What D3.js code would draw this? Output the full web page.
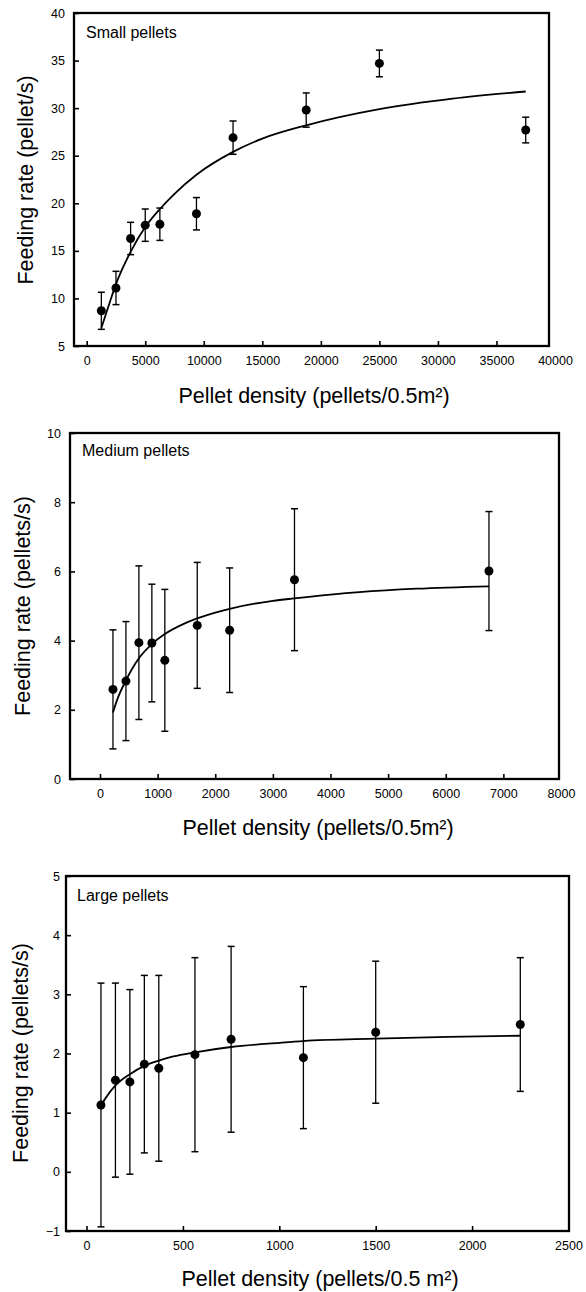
<!DOCTYPE html>
<html>
<head>
<meta charset="utf-8">
<script src="https://cdn.jsdelivr.net/npm/d3@7"></script>
<style>
  body { margin: 0; background: #fff; }
  svg { display: block; }
  text { font-family: "Liberation Sans", Arial, Helvetica, sans-serif; fill: #000; }
</style>
</head>
<body>
<svg id="canvas" width="586" height="1292"></svg>
<script>
// --- data ---
// small pellets
let smallDensity = [1250, 2500, 3750, 5000, 6250, 9375, 12500, 18750, 25000, 37500];
let smallRate = [8.7, 11.1, 16.3, 17.7, 17.8, 18.9, 26.9, 29.8, 34.7, 27.7];
let smallErr = [1.95, 1.75, 1.7, 1.7, 1.7, 1.7, 1.75, 1.8, 1.4, 1.35];
let smallFitX = [1250, 2000, 2500, 3750, 5000, 6250, 7500, 9375, 12500, 15000, 18750, 25000, 31250, 37500];
let smallFitY = [6.9, 9.7, 11.5, 14.9, 17.5, 19.4, 21.0, 23.0, 25.4, 26.8, 28.2, 29.9, 31.0, 31.75];
let smallXTicks = [0, 5000, 10000, 15000, 20000, 25000, 30000, 35000, 40000];
let smallYTicks = [5, 10, 15, 20, 25, 30, 35, 40];

// medium pellets
let mediumDensity = [225, 450, 675, 900, 1125, 1687.5, 2250, 3375, 6750];
let mediumRate = [2.59, 2.83, 3.94, 3.93, 3.43, 4.44, 4.30, 5.76, 6.01];
let mediumErr = [1.72, 1.72, 2.22, 1.70, 2.05, 1.82, 1.80, 2.05, 1.72];
let mediumFitX = [225, 300, 450, 675, 900, 1125, 1500, 2000, 2250, 3000, 3375, 4500, 5500, 6750];
let mediumFitY = [1.92, 2.30, 2.85, 3.49, 3.90, 4.19, 4.52, 4.81, 4.92, 5.15, 5.22, 5.40, 5.50, 5.57];
let mediumXTicks = [0, 1000, 2000, 3000, 4000, 5000, 6000, 7000, 8000];
let mediumYTicks = [0, 2, 4, 6, 8, 10];

// large pellets
let largeDensity = [75, 150, 225, 300, 375, 562.5, 750, 1125, 1500, 2250];
let largeRate = [1.13, 1.55, 1.52, 1.82, 1.75, 1.98, 2.24, 1.93, 2.36, 2.49];
let largeErr = [2.06, 1.64, 1.56, 1.5, 1.57, 1.64, 1.57, 1.2, 1.2, 1.13];
let largeFitX = [75, 100, 150, 225, 300, 375, 450, 562.5, 750, 1000, 1125, 1500, 1875, 2250];
let largeFitY = [1.12, 1.25, 1.46, 1.65, 1.79, 1.88, 1.95, 2.02, 2.11, 2.18, 2.21, 2.25, 2.28, 2.30];
let largeXTicks = [0, 500, 1000, 1500, 2000, 2500];
let largeYTicks = [-1, 0, 1, 2, 3, 4, 5];

let canvas = d3.select("#canvas");

let drawPanel = (p) => {
  let g = canvas.append("g");
  let box = p.box;

  let x = d3.scaleLinear().domain([0, p.xTicks[p.xTicks.length - 1]]).range(p.xRange);
  let y = d3.scaleLinear().domain([p.yTicks[0], p.yTicks[p.yTicks.length - 1]]).range([box.b, box.t]);

  // axes, ticks pointing inward
  let xAxis = g.append("g")
    .attr("transform", "translate(0," + box.b + ")")
    .call(d3.axisBottom(x).tickValues(p.xTicks).tickFormat(d3.format("d"))
      .tickSizeInner(-5).tickSizeOuter(0).tickPadding(10.5));
  xAxis.select(".domain").remove();
  xAxis.selectAll(".tick line")
    .attr("stroke", "#000").attr("stroke-width", 1.6)
    .filter((d) => x(d) > box.r - 1 || x(d) < box.l + 1).remove();
  xAxis.selectAll(".tick text").style("font-size", "12.5px").attr("font-family", null);

  let yAxis = g.append("g")
    .attr("transform", "translate(" + box.l + ",0)")
    .call(d3.axisLeft(y).tickValues(p.yTicks).tickFormat(d3.format("d"))
      .tickSizeInner(-5).tickSizeOuter(0).tickPadding(p.yPad));
  yAxis.select(".domain").remove();
  yAxis.selectAll(".tick line").attr("stroke", "#000").attr("stroke-width", 1.6);
  yAxis.selectAll(".tick text").style("font-size", "12.5px").attr("font-family", null);

  // frame
  g.append("rect")
    .attr("x", box.l).attr("y", box.t)
    .attr("width", box.r - box.l).attr("height", box.b - box.t)
    .attr("fill", "none").attr("stroke", "#000").attr("stroke-width", 2.3);

  // fitted curve
  let line = d3.line()
    .x((d) => x(d[0]))
    .y((d) => y(d[1]))
    .curve(d3.curveMonotoneX);
  g.append("path")
    .datum(p.fitX.map((v, i) => [v, p.fitY[i]]))
    .attr("d", line)
    .attr("fill", "none").attr("stroke", "#000").attr("stroke-width", 1.8);

  // error bars
  let pts = p.density.map((v, i) => ({ x: v, y: p.rate[i], e: p.err[i] }));
  let bars = g.selectAll(".err").data(pts).enter().append("g");
  bars.append("line")
    .attr("x1", (d) => x(d.x)).attr("x2", (d) => x(d.x))
    .attr("y1", (d) => y(d.y - d.e)).attr("y2", (d) => y(d.y + d.e))
    .attr("stroke", "#000").attr("stroke-width", 1.3);
  [-1, 1].forEach((s) => {
    bars.append("line")
      .attr("x1", (d) => x(d.x) - 3.5).attr("x2", (d) => x(d.x) + 3.5)
      .attr("y1", (d) => y(d.y + s * d.e)).attr("y2", (d) => y(d.y + s * d.e))
      .attr("stroke", "#000").attr("stroke-width", 1.5);
  });

  // points
  g.selectAll("circle").data(pts).enter().append("circle")
    .attr("cx", (d) => x(d.x)).attr("cy", (d) => y(d.y))
    .attr("r", 4.5).attr("fill", "#000");

  // texts
  g.append("text")
    .attr("x", p.labelPos[0]).attr("y", p.labelPos[1])
    .style("font-size", "16px").text(p.label);

  g.append("text")
    .attr("x", p.xTitlePos[0]).attr("y", p.xTitlePos[1])
    .attr("text-anchor", "middle").style("font-size", "21.5px")
    .text(p.xTitle);

  g.append("text")
    .attr("transform", "translate(" + p.yTitlePos[0] + "," + p.yTitlePos[1] + ") rotate(-90)")
    .attr("text-anchor", "middle").style("font-size", "21.5px")
    .text(p.yTitle);
};

drawPanel({
  box: { l: 74, r: 549, t: 13, b: 346 },
  xRange: [86.7, 555],
  xTicks: smallXTicks, yTicks: smallYTicks, yPad: 9,
  density: smallDensity, rate: smallRate, err: smallErr,
  fitX: smallFitX, fitY: smallFitY,
  label: "Small pellets", labelPos: [86, 38],
  xTitle: "Pellet density (pellets/0.5m\u00B2)", xTitlePos: [314, 403],
  yTitle: "Feeding rate (pellet/s)", yTitlePos: [33, 180]
});

drawPanel({
  box: { l: 70, r: 559, t: 433, b: 779 },
  xRange: [100, 561],
  xTicks: mediumXTicks, yTicks: mediumYTicks, yPad: 9,
  density: mediumDensity, rate: mediumRate, err: mediumErr,
  fitX: mediumFitX, fitY: mediumFitY,
  label: "Medium pellets", labelPos: [82, 456],
  xTitle: "Pellet density (pellets/0.5m\u00B2)", xTitlePos: [318, 835],
  yTitle: "Feeding rate (pellets/s)", yTitlePos: [30, 606]
});

drawPanel({
  box: { l: 66, r: 569, t: 876, b: 1231 },
  xRange: [86.5, 568.5],
  xTicks: largeXTicks, yTicks: largeYTicks, yPad: 6,
  density: largeDensity, rate: largeRate, err: largeErr,
  fitX: largeFitX, fitY: largeFitY,
  label: "Large pellets", labelPos: [77, 901],
  xTitle: "Pellet density (pellets/0.5 m\u00B2)", xTitlePos: [320, 1286],
  yTitle: "Feeding rate (pellets/s)", yTitlePos: [28, 1053]
});
</script>
</body>
</html>
